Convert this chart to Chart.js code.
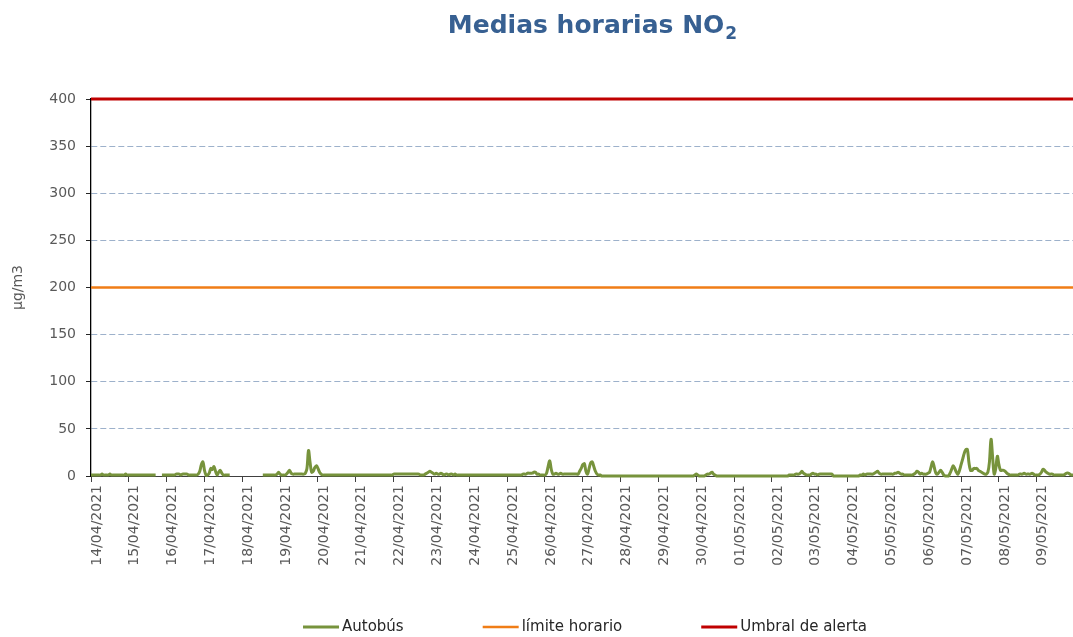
<!DOCTYPE html>
<html>
<head>
<meta charset="utf-8">
<script src="https://cdn.jsdelivr.net/npm/chart.js@4"></script>
<style>
html, body { margin: 0; padding: 0; background: #fff; }
</style>
</head>
<body>
<canvas id="myChart" width="1073" height="637"></canvas>
<script>
'use strict';

// one label per day, the x axis is in hours
let days = ['14/04/2021', '15/04/2021', '16/04/2021', '17/04/2021', '18/04/2021', '19/04/2021',
    '20/04/2021', '21/04/2021', '22/04/2021', '23/04/2021', '24/04/2021', '25/04/2021',
    '26/04/2021', '27/04/2021', '28/04/2021', '29/04/2021', '30/04/2021', '01/05/2021',
    '02/05/2021', '03/05/2021', '04/05/2021', '05/05/2021', '06/05/2021', '07/05/2021',
    '08/05/2021', '09/05/2021'];

// hourly NO2 means (µg/m3), 24 values per day, null = no data
let autobus = [
    1, 1, 1, 1, 1, 1, 1, 2, 1, 1, 1, 1, 2, 1, 1, 1, 1, 1, 1, 1, 1, 1, 2, 1,          // 14/04
    1, 1, 1, 1, 1, 1, 1, 1, 1, 1, 1, 1, 1, 1, 1, 1, 1, 1, null, null, null, 1, 1, 1, // 15/04
    1, 1, 1, 1, 1, 1, 2, 2, 2, 1, 2, 2, 2, 2, 1, 1, 1, 1, 1, 1, 2, 5, 12, 15,       // 16/04
    6, 1, 1, 3, 8, 7, 10, 5, 1, 4, 6, 3, 1, 1, 1, 1, 1, null, null, null, null, null, null, null, // 17/04
    null, null, null, null, null, null, null, null, null, null, null, null, null, 1, 1, 1, 1, 1, 1, 1, 1, 1, 2, 4, // 18/04
    2, 1, 1, 1, 2, 4, 6, 3, 2, 2, 2, 2, 2, 2, 2, 2, 3, 8, 27, 14, 4, 5, 9, 11,      // 19/04
    8, 4, 2, 1, 1, 1, 1, 1, 1, 1, 1, 1, 1, 1, 1, 1, 1, 1, 1, 1, 1, 1, 1, 1,         // 20/04
    1, 1, 1, 1, 1, 1, 1, 1, 1, 1, 1, 1, 1, 1, 1, 1, 1, 1, 1, 1, 1, 1, 1, 1,         // 21/04
    2, 2, 2, 2, 2, 2, 2, 2, 2, 2, 2, 2, 2, 2, 2, 2, 2, 1, 1, 1, 2, 3, 4, 5,         // 22/04
    4, 3, 2, 3, 2, 2, 3, 2, 1, 2, 2, 1, 2, 2, 1, 2, 1, 1, 1, 1, 1, 1, 1, 1,         // 23/04
    1, 1, 1, 1, 1, 1, 1, 1, 1, 1, 1, 1, 1, 1, 1, 1, 1, 1, 1, 1, 1, 1, 1, 1,         // 24/04
    1, 1, 1, 1, 1, 1, 1, 1, 1, 1, 2, 2, 2, 3, 3, 3, 3, 4, 4, 2, 2, 1, 1, 1,         // 25/04
    1, 3, 10, 16, 7, 2, 2, 3, 2, 2, 3, 2, 2, 2, 2, 2, 2, 2, 2, 2, 2, 2, 5, 8,       // 26/04
    12, 13, 5, 2, 8, 14, 15, 10, 5, 2, 1, 1, 0, 0, 0, 0, 0, 0, 0, 0, 0, 0, 0, 0,    // 27/04
    0, 0, 0, 0, 0, 0, 0, 0, 0, 0, 0, 0, 0, 0, 0, 0, 0, 0, 0, 0, 0, 0, 0, 0,         // 28/04
    0, 0, 0, 0, 0, 0, 0, 0, 0, 0, 0, 0, 0, 0, 0, 0, 0, 0, 0, 0, 0, 0, 0, 1,         // 29/04
    2, 1, 0, 0, 0, 0, 1, 2, 2, 3, 4, 2, 1, 0, 0, 0, 0, 0, 0, 0, 0, 0, 0, 0,         // 30/04
    0, 0, 0, 0, 0, 0, 0, 0, 0, 0, 0, 0, 0, 0, 0, 0, 0, 0, 0, 0, 0, 0, 0, 0,         // 01/05
    0, 0, 0, 0, 0, 0, 0, 0, 0, 0, 0, 1, 1, 1, 1, 2, 2, 2, 3, 5, 3, 2, 1, 1,         // 02/05
    1, 2, 3, 2, 2, 1, 2, 2, 2, 2, 2, 2, 2, 2, 2, 0, 0, 0, 0, 0, 0, 0, 0, 0,         // 03/05
    0, 0, 0, 0, 0, 0, 0, 0, 1, 1, 2, 1, 2, 2, 2, 2, 2, 3, 4, 5, 3, 2, 2, 2,         // 04/05
    2, 2, 2, 2, 2, 2, 3, 3, 4, 3, 2, 2, 1, 1, 1, 1, 1, 1, 2, 3, 5, 4, 2, 3,         // 05/05
    2, 2, 2, 3, 4, 10, 15, 9, 3, 2, 4, 6, 4, 1, 0, 0, 0, 3, 7, 11, 8, 4, 2, 6,      // 06/05
    12, 18, 24, 28, 28, 14, 6, 6, 8, 8, 8, 6, 5, 4, 3, 2, 2, 4, 15, 39, 20, 2, 8, 21, // 07/05
    12, 6, 6, 6, 5, 3, 2, 1, 1, 1, 1, 1, 1, 2, 2, 2, 3, 2, 2, 2, 2, 3, 2, 1,        // 08/05
    1, 1, 2, 4, 7, 6, 4, 3, 2, 2, 2, 1, 1, 1, 1, 1, 1, 1, 2, 3, 3, 2, 1, 1          // 09/05
];

let limiteHorario = 200;
let umbralAlerta = 400;
let yMax = 400;
let yStep = 50;

let hours = autobus.map((v, i) => i);

// title with subscript 2
const tituloPlugin = {
    id: 'titulo',
    afterDraw(chart) {
        let ctx = chart.ctx;
        let area = chart.chartArea;
        ctx.save();
        ctx.fillStyle = '#376092';
        ctx.textBaseline = 'alphabetic';
        ctx.font = 'bold 25px "DejaVu Sans"';
        let main = 'Medias horarias NO';
        let wMain = ctx.measureText(main).width;
        ctx.font = 'bold 17px "DejaVu Sans"';
        let wSub = ctx.measureText('2').width;
        let x = (area.left + area.right) / 2 + 10 - (wMain + wSub) / 2;
        ctx.font = 'bold 25px "DejaVu Sans"';
        ctx.fillText(main, x, 33);
        ctx.font = 'bold 17px "DejaVu Sans"';
        ctx.fillText('2', x + wMain + 1, 39);
        ctx.restore();
    }
};

// legend drawn like the excel one: line sample then text
const leyendaPlugin = {
    id: 'leyenda',
    afterDraw(chart) {
        let ctx = chart.ctx;
        let area = chart.chartArea;
        let sets = chart.data.datasets;
        let lineLen = 36, gap = 3, spacing = 79;
        ctx.save();
        ctx.font = '15px "DejaVu Sans"';
        let widths = sets.map(ds => lineLen + gap + ctx.measureText(ds.label).width);
        let total = widths.reduce((a, b) => a + b, 0) + spacing * (sets.length - 1);
        let x = (area.left + area.right) / 2 - total / 2 + 3;
        let y = 627;
        sets.forEach((ds, i) => {
            ctx.strokeStyle = ds.borderColor;
            ctx.lineWidth = ds.borderWidth;
            ctx.beginPath();
            ctx.moveTo(x, y);
            ctx.lineTo(x + lineLen, y);
            ctx.stroke();
            ctx.fillStyle = '#262626';
            ctx.textBaseline = 'middle';
            ctx.fillText(ds.label, x + lineLen + gap, y);
            x += widths[i] + spacing;
        });
        ctx.restore();
    }
};

let ctx = document.getElementById('myChart').getContext('2d');
let myChart = new Chart(ctx, {
    type: 'line',
    data: {
        datasets: [{
            label: 'Autobús',
            data: hours.map(h => ({ x: h, y: autobus[h] })),
            borderColor: '#77933C',
            backgroundColor: '#77933C',
            borderWidth: 3,
            pointRadius: 0,
            tension: 0.35,
            spanGaps: false,
            clip: false
        }, {
            label: 'límite horario',
            data: hours.map(h => ({ x: h, y: limiteHorario })),
            borderColor: '#F07D16',
            backgroundColor: '#F07D16',
            borderWidth: 2.5,
            pointRadius: 0,
            clip: false
        }, {
            label: 'Umbral de alerta',
            data: hours.map(h => ({ x: h, y: umbralAlerta })),
            borderColor: '#C00000',
            backgroundColor: '#C00000',
            borderWidth: 3,
            pointRadius: 0,
            clip: false
        }]
    },
    options: {
        responsive: false,
        devicePixelRatio: 1,
        animation: false,
        layout: { padding: { top: 99, left: 0, right: 0, bottom: 0 } },
        plugins: {
            legend: { display: false },
            title: { display: false },
            tooltip: { enabled: false }
        },
        scales: {
            x: {
                type: 'linear',
                min: 0,
                max: autobus.length - 1,
                afterBuildTicks: scale => {
                    scale.ticks = days.map((d, i) => ({ value: i * 24 }));
                },
                afterFit: scale => { scale.height = 161; },
                grid: {
                    display: true,
                    drawOnChartArea: false,
                    drawTicks: true,
                    tickLength: 6,
                    tickColor: '#404040'
                },
                border: { display: true, color: '#404040', width: 1 },
                ticks: {
                    autoSkip: false,
                    maxRotation: 90,
                    minRotation: 90,
                    padding: 3,
                    labelOffset: 6,
                    color: '#595959',
                    font: { family: 'DejaVu Sans', size: 14 },
                    callback: value => days[value / 24]
                }
            },
            y: {
                min: 0,
                max: yMax,
                afterFit: scale => { scale.width = 91; },
                ticks: {
                    stepSize: yStep,
                    padding: 10,
                    color: '#595959',
                    font: { family: 'DejaVu Sans', size: 14 }
                },
                grid: {
                    color: '#9DB1CB',
                    lineWidth: 1,
                    tickLength: 5,
                    tickColor: '#262626',
                    tickBorderDash: []
                },
                border: { display: true, color: '#000000', width: 1.3, dash: [6, 3] },
                title: {
                    display: true,
                    text: 'µg/m3',
                    color: '#595959',
                    font: { family: 'DejaVu Sans', size: 14 },
                    padding: { top: 10, bottom: 0 }
                }
            }
        }
    },
    plugins: [tituloPlugin, leyendaPlugin]
});
</script>
</body>
</html>
